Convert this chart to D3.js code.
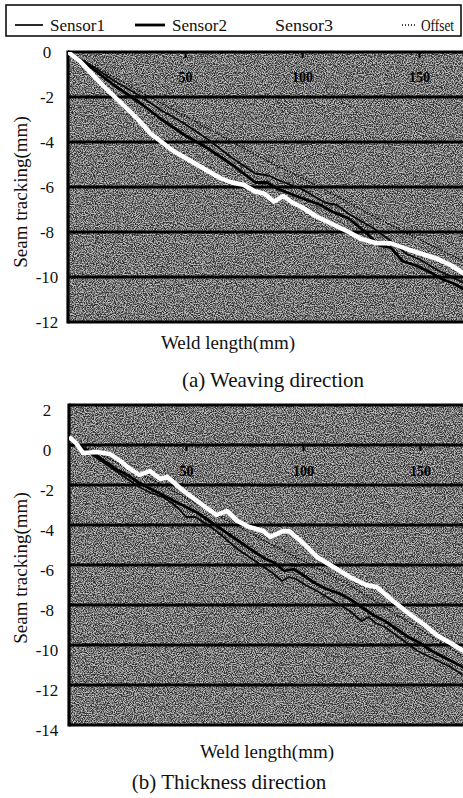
<!DOCTYPE html>
<html><head><meta charset="utf-8">
<script src="https://cdn.jsdelivr.net/npm/d3@7"></script>
<style>
html,body{margin:0;padding:0;background:#fff;}
svg{display:block;}
svg text{font-family:"Liberation Serif","Times New Roman",serif;}
</style></head><body>
<svg id="chart" width="463" height="798"></svg>
<script>
// ---------------- data ----------------
const legendLabels = ["Sensor1", "Sensor2", "Sensor3", "Offset"];
const xTickValues = [50, 100, 150];
const yTicksWeaving = [0, -2, -4, -6, -8, -10, -12];
const yTicksThickness = [2, 0, -2, -4, -6, -8, -10, -12, -14];

// (a) Weaving direction : [weld length (mm), seam tracking (mm)]
const weavingSensor1 = [[0,0],[10,-0.6],[20,-1.3],[30,-1.9],[40,-2.6],[50,-3.2],[60,-3.9],[70,-4.7],[80,-5.4],[86,-5.5],[90,-5.7],[100,-6.1],[110,-6.7],[115,-6.8],[120,-7.2],[130,-7.8],[138,-8.4],[145,-9.0],[150,-9.2],[158,-9.7],[164,-10.0],[170,-10.3]];
const weavingSensor2 = [[0,0],[10,-0.7],[20,-1.5],[30,-2.2],[40,-3.0],[50,-3.7],[60,-4.3],[70,-5.0],[80,-5.8],[85,-5.8],[90,-6.1],[100,-6.5],[108,-6.8],[113,-7.1],[120,-7.4],[127,-8.0],[133,-8.6],[138,-8.7],[143,-9.3],[149,-9.5],[155,-9.8],[160,-10.1],[165,-10.3],[170,-10.6]];
const weavingSensor3 = [[0,0],[5,-0.4],[10,-0.95],[15,-1.5],[20,-2.0],[25,-2.5],[30,-3.0],[35,-3.6],[40,-4.0],[45,-4.4],[50,-4.7],[55,-5.0],[60,-5.3],[65,-5.6],[70,-5.8],[75,-5.9],[80,-6.2],[84,-6.3],[88,-6.65],[92,-6.4],[96,-6.7],[100,-6.9],[106,-7.3],[110,-7.5],[116,-7.8],[120,-8.0],[125,-8.3],[132,-8.5],[138,-8.5],[146,-8.8],[152,-9.0],[158,-9.2],[164,-9.5],[170,-9.9]];
const weavingOffset = [[0,0],[79,-4.5],[113,-6.3],[138,-7.7],[170,-9.35]];

// (b) Thickness direction
const thicknessSensor1 = [[0,0.3],[5,-0.1],[10,-0.5],[15,-0.9],[20,-1.3],[25,-1.7],[30,-2.1],[35,-2.4],[40,-2.6],[44,-2.9],[47,-3.2],[50,-3.6],[54,-3.6],[58,-3.9],[63,-4.3],[68,-4.8],[72,-5.2],[77,-5.6],[82,-6.0],[87,-6.4],[91,-6.8],[94,-6.6],[97,-6.7],[101,-7.0],[106,-7.3],[113,-7.8],[120,-8.3],[125,-8.8],[128,-8.6],[131,-8.9],[135,-9.1],[142,-9.7],[149,-10.3],[156,-10.7],[163,-11.1],[170,-11.6]];
const thicknessSensor2 = [[0,0.3],[5,-0.1],[10,-0.4],[15,-0.8],[20,-1.2],[25,-1.5],[30,-1.9],[35,-2.2],[40,-2.5],[45,-2.8],[50,-3.1],[55,-3.4],[60,-3.8],[65,-4.2],[70,-4.6],[75,-5.0],[80,-5.4],[84,-5.7],[88,-5.9],[92,-6.3],[96,-6.2],[100,-6.5],[105,-6.9],[110,-7.2],[115,-7.4],[120,-7.7],[125,-8.1],[130,-8.5],[135,-8.8],[140,-9.2],[145,-9.6],[150,-9.9],[155,-10.3],[160,-10.6],[165,-10.9],[170,-11.2]];
const thicknessSensor3 = [[0,0.4],[3,0.1],[6,-0.4],[12,-0.35],[17.5,-0.45],[22,-0.8],[25,-1.1],[30,-1.5],[34.6,-1.3],[39,-1.7],[42,-1.6],[49,-2.3],[57,-3.0],[63,-3.5],[67.5,-3.3],[72,-3.8],[77,-4.1],[83,-4.3],[86,-4.6],[91.5,-4.3],[94,-4.3],[100,-4.9],[106,-5.6],[113,-6.1],[120,-6.6],[127,-7.0],[131.5,-7.1],[138.5,-7.8],[146,-8.5],[152,-9.0],[157,-9.5],[163,-9.9],[170,-10.4]];
const thicknessOffset = [[0,0.3],[40,-2.0],[82,-4.7],[120,-7.0],[170,-10.7]];

// ---------------- drawing ----------------
const svg = d3.select("#chart");
const defs = svg.append("defs");
const flt = defs.append("filter").attr("id", "speckle")
  .attr("x", 0).attr("y", 0).attr("width", "100%").attr("height", "100%");
flt.append("feTurbulence").attr("type", "fractalNoise")
  .attr("baseFrequency", 0.9).attr("numOctaves", 2).attr("seed", 7).attr("result", "t");
flt.append("feColorMatrix").attr("in", "t").attr("type", "matrix")
  .attr("values", "0 0 0 0 0  0 0 0 0 0  0 0 0 0 0  3.2 0 0 0 -1.1");

// legend
const leg = svg.append("g");
leg.append("rect").attr("x", 6).attr("y", 5).attr("width", 455).attr("height", 31)
  .attr("fill", "#fff").attr("stroke", "#000").attr("stroke-width", 1.5);
const legendItems = [
  {label: legendLabels[0], x1: 15, x2: 43, tx: 50, len: 55, stroke: "#111", w: 1.8, dash: null},
  {label: legendLabels[1], x1: 135, x2: 165, tx: 172, len: 55, stroke: "#000", w: 2.8, dash: null},
  {label: legendLabels[2], x1: 242, x2: 268, tx: 275, len: 58, stroke: "#fff", w: 4, dash: null},
  {label: legendLabels[3], x1: 402, x2: 417, tx: 421, len: 33, stroke: "#000", w: 1.3, dash: "1,2"}
];
legendItems.forEach(d => {
  leg.append("line").attr("x1", d.x1).attr("x2", d.x2).attr("y1", 25).attr("y2", 25)
    .attr("stroke", d.stroke).attr("stroke-width", d.w).attr("stroke-dasharray", d.dash);
  leg.append("text").attr("x", d.tx).attr("y", 31).text(d.label)
    .attr("textLength", d.len).attr("lengthAdjust", "spacingAndGlyphs")
    .attr("font-size", 17).attr("fill", "#111");
});

function panel(cfg) {
  const x = d3.scaleLinear().domain([0, 170]).range([cfg.left, cfg.left + 170 * 2.34]);
  const y = d3.scaleLinear().domain(cfg.yDomain).range([cfg.bottom, cfg.top]);
  const g = svg.append("g");
  const clipId = "clip" + cfg.id;
  defs.append("clipPath").attr("id", clipId).append("rect")
    .attr("x", x(0)).attr("y", y(cfg.yDomain[1])).attr("width", x(170) - x(0))
    .attr("height", y(cfg.yDomain[0]) - y(cfg.yDomain[1]));
  // background
  g.append("rect").attr("x", x(0)).attr("y", y(cfg.yDomain[1]))
    .attr("width", x(170) - x(0)).attr("height", y(cfg.yDomain[0]) - y(cfg.yDomain[1]))
    .attr("fill", "#bdbdbd");
  g.append("rect").attr("x", x(0)).attr("y", y(cfg.yDomain[1]))
    .attr("width", x(170) - x(0)).attr("height", y(cfg.yDomain[0]) - y(cfg.yDomain[1]))
    .attr("fill", "#000").attr("filter", "url(#speckle)").attr("opacity", 0.75);
  // gridlines
  g.selectAll(".grid").data(cfg.yTicks).enter().append("line")
    .attr("x1", x(0)).attr("x2", x(170)).attr("y1", d => y(d)).attr("y2", d => y(d))
    .attr("stroke", "#000").attr("stroke-width", 3.2);
  g.append("line").attr("x1", x(0)).attr("x2", x(0))
    .attr("y1", y(cfg.yDomain[1]) - 1.5).attr("y2", y(cfg.yDomain[0]) + 1.5)
    .attr("stroke", "#000").attr("stroke-width", 3.2);
  // series
  const line = d3.line().x(d => x(d[0])).y(d => y(d[1]));
  const lg = g.append("g").attr("clip-path", `url(#${clipId})`);
  const styles = [
    {data: cfg.offset, stroke: "#000", w: 1.3, dash: "1.5,1.5"},
    {data: cfg.s1, stroke: "#0a0a0a", w: 1.8, dash: null},
    {data: cfg.s2, stroke: "#000", w: 2.8, dash: null},
    {data: cfg.s3, stroke: "#fff", w: 4.5, dash: null}
  ];
  styles.forEach(s => {
    lg.append("path").datum(s.data).attr("d", line).attr("fill", "none")
      .attr("stroke", s.stroke).attr("stroke-width", s.w).attr("stroke-dasharray", s.dash)
      .attr("stroke-linejoin", "round");
  });
  // y axis labels
  const ya = g.append("g").attr("transform", `translate(${x(0)},0)`)
    .call(d3.axisLeft(y).tickValues(cfg.yTicks).tickSize(0).tickFormat(d => String(d)));
  ya.select(".domain").remove();
  ya.attr("font-family", null);
  ya.selectAll("text").attr("x", 47 - x(0)).attr("dy", cfg.labelDy)
    .attr("text-anchor", "middle").attr("font-size", 17).attr("fill", "#111");
  // x axis (on the zero line)
  const xa = g.append("g").attr("transform", `translate(0,${y(0)})`)
    .call(d3.axisBottom(x).tickValues(xTickValues).tickSize(6).tickFormat(d => String(d)));
  xa.select(".domain").remove();
  xa.attr("font-family", null);
  xa.selectAll("line").attr("stroke", "#000").attr("stroke-width", 2);
  xa.selectAll("text").attr("y", cfg.xLabelOffset).attr("dy", 0)
    .attr("font-weight", "bold").attr("font-size", 14).attr("fill", "#000");
  // titles
  svg.append("text").attr("transform", `translate(27,${cfg.yTitleY}) rotate(-90)`)
    .attr("text-anchor", "middle").attr("font-size", 19)
    .attr("fill", "#111").text("Seam tracking(mm)");
  svg.append("text").attr("x", cfg.xTitleX).attr("y", cfg.xTitleY)
    .attr("text-anchor", "middle").attr("font-size", 19)
    .attr("fill", "#111").text("Weld length(mm)");
  svg.append("text").attr("x", cfg.capX).attr("y", cfg.capY)
    .attr("text-anchor", "middle").attr("font-size", 21)
    .attr("fill", "#111").text(cfg.caption);
}

panel({id: "a", left: 68, top: 52, bottom: 322, yDomain: [-12, 0], yTicks: yTicksWeaving,
  s1: weavingSensor1, s2: weavingSensor2, s3: weavingSensor3, offset: weavingOffset,
  labelDy: "0.35em", xLabelOffset: 30, yTitleY: 192, xTitleX: 228, xTitleY: 349,
  capX: 273, capY: 387, caption: "(a) Weaving direction"});
panel({id: "b", left: 69, top: 405, bottom: 725, yDomain: [-14, 2], yTicks: yTicksThickness,
  s1: thicknessSensor1, s2: thicknessSensor2, s3: thicknessSensor3, offset: thicknessOffset,
  labelDy: "0.6em", xLabelOffset: 31, yTitleY: 568, xTitleX: 267, xTitleY: 758,
  capX: 229, capY: 789, caption: "(b) Thickness direction"});
</script>
</body></html>
